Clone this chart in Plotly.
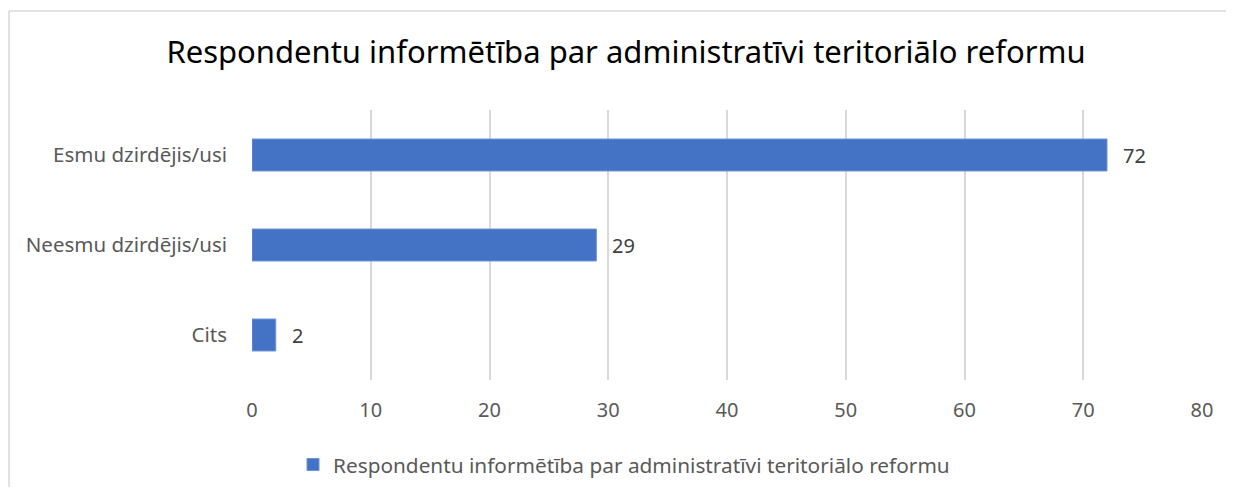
import plotly.graph_objects as go

categories = ["Esmu dzirdējis/usi", "Neesmu dzirdējis/usi", "Cits"]
values = [72, 29, 2]
series_name = "Respondentu informētība par administratīvi teritoriālo reformu"
title_text = "Respondentu informētība par administratīvi teritoriālo reformu"
tick_vals = [0, 10, 20, 30, 40, 50, 60, 70, 80]

FONT = "Noto Sans"

fig = go.Figure()
fig.add_trace(go.Bar(
    x=values,
    y=categories,
    orientation="h",
    name=series_name,
    marker=dict(color="#4472C4", line=dict(color="#6E93D6", width=1)),
    showlegend=True,
))

for v, c in zip(values, categories):
    fig.add_annotation(x=v, y=c, text=str(v), showarrow=False, xanchor="left",
                       xshift=14, font=dict(family=FONT, size=20, color="#404040"))

# page body has an 8px margin, so the figure is drawn offset by 8px
W, H = 1226, 479
L, R, T, B = 244, 32, 102, 107
PW, PH = W - L - R, H - T - B

fig.update_layout(
    width=W, height=H,
    margin=dict(l=L, r=R, t=T, b=B),
    paper_bgcolor="white", plot_bgcolor="white",
    title=dict(text=title_text, x=618 / W, xanchor="center", y=1 - 44 / H, yanchor="middle",
               font=dict(family=FONT, size=31, color="black")),
    bargap=0.645,
    xaxis=dict(range=[0, 80], tickvals=tick_vals, showgrid=True, gridcolor="#D9D9D9", gridwidth=1.5,
               zeroline=False, showline=False, ticks="",
               tickfont=dict(family=FONT, size=20, color="#595959"), ticklabelstandoff=16),
    yaxis=dict(categoryorder="array", categoryarray=categories[::-1], showgrid=False,
               zeroline=False, showline=False, ticks="", ticklabelstandoff=24,
               tickfont=dict(family=FONT, size=20.5, color="#595959")),
    legend=dict(orientation="h", x=616 / W, xanchor="center", xref="container",
                y=1 - 457 / H, yanchor="middle", yref="container",
                font=dict(family=FONT, size=20.8, color="#595959"), itemwidth=30),
    shapes=[
        dict(type="line", xref="paper", yref="paper", x0=-(L - 1) / PW, x1=1.2,
             y0=1 + (T - 3) / PH, y1=1 + (T - 3) / PH,
             line=dict(color="#D9D9D9", width=1.5)),
        dict(type="line", xref="paper", yref="paper", x0=-(L - 1) / PW, x1=-(L - 1) / PW,
             y0=1 + (T - 3) / PH, y1=-1,
             line=dict(color="#D9D9D9", width=1.5)),
    ],
)

fig.write_html("out.html")
